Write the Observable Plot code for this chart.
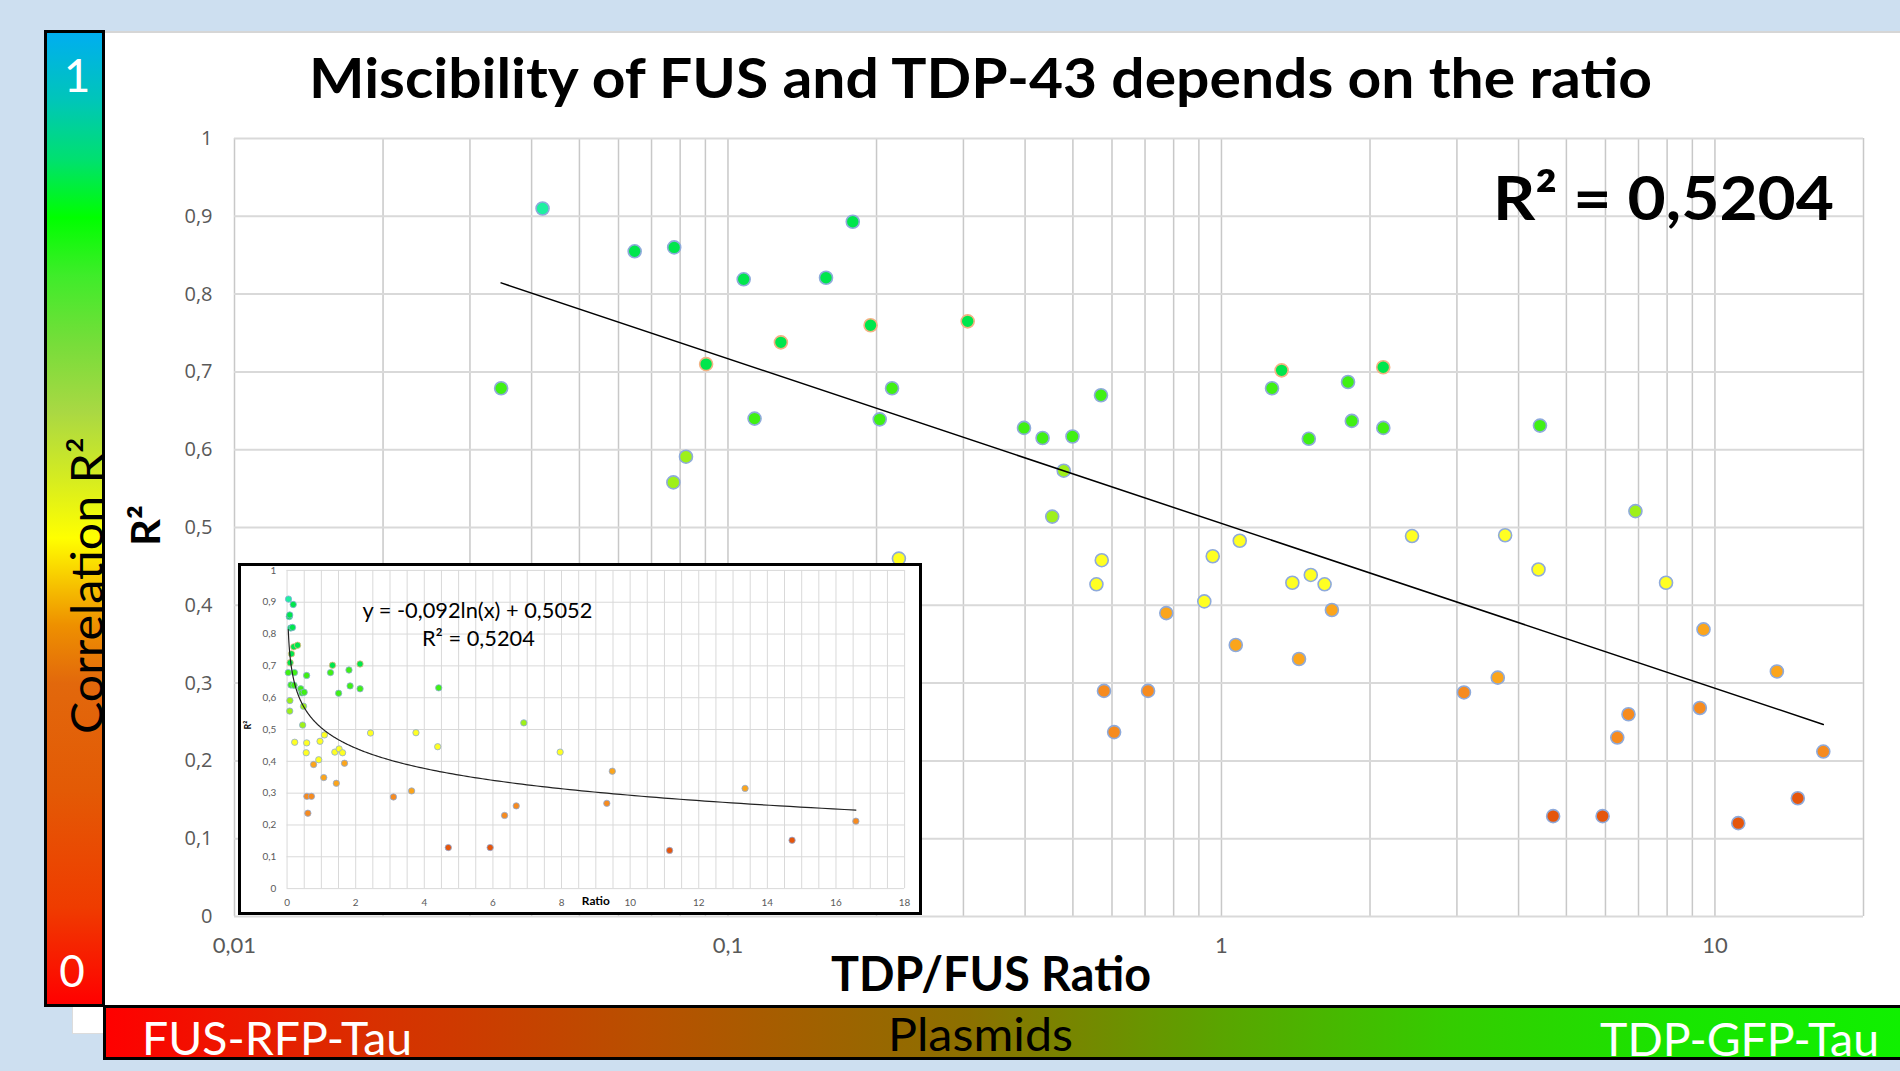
<!DOCTYPE html>
<html><head><meta charset="utf-8">
<script src="https://cdn.jsdelivr.net/npm/d3@7"></script>
<script src="https://cdn.jsdelivr.net/npm/@observablehq/plot@0.6"></script>
<style>
html,body{margin:0;padding:0}
body{width:1900px;height:1071px;background:#cddff0;position:relative;overflow:hidden;font-family:Lato,"Open Sans",sans-serif}
.abs{position:absolute}
.lbl{position:absolute;left:0;top:0;white-space:nowrap;line-height:1;transform-origin:0 0;z-index:10}
</style></head>
<body>
<div class="abs" style="left:104px;top:31px;width:1796px;height:976px;background:#fff;border-top:2px solid #d6d6d6;box-sizing:border-box"></div>
<div class="abs" style="left:72px;top:1004px;width:32px;height:30px;background:#fff;border:1px solid #dcdcdc;box-sizing:border-box"></div>
<div class="abs" id="chart" style="left:0;top:0;z-index:2"></div>
<div class="abs" id="inset" style="left:238px;top:563px;width:684px;height:352px;z-index:3;background:#fff;border:3px solid #000;box-sizing:border-box;overflow:hidden"></div>
<div class="abs" style="left:44px;top:30px;width:61px;height:977px;z-index:5;border:3px solid #000;box-sizing:border-box;background:linear-gradient(to bottom,#00aef0 0%,#00c6b8 7%,#00e070 13%,#00ff00 19%,#3fec2a 25%,#77dd3a 32%,#a9d843 39%,#d6ec20 46%,#ffff00 52%,#f6c000 57%,#ee9000 61%,#e2680c 67%,#e35a05 78%,#ef3c00 90%,#ff0000 100%)"></div>
<div class="abs" style="left:103px;top:1005px;width:1800px;height:55px;z-index:5;border:3px solid #000;box-sizing:border-box;background:linear-gradient(to right,#ff0000 0%,#d83000 15%,#b85000 30%,#8c7000 48%,#5aa400 62%,#34cc00 75%,#18e600 88%,#10f000 100%)"></div>

<div class="lbl" id="tTitle" style="font:700 56px Lato,sans-serif;color:#000">Miscibility of FUS and TDP-43 depends on the ratio</div>
<div class="lbl" id="tR2" style="font:700 62px Lato,sans-serif;color:#000"></div>
<div class="lbl" id="tX" style="font:700 48px Lato,sans-serif;color:#000">TDP/FUS Ratio</div>
<div class="lbl" id="tY" style="font:700 40px Lato,sans-serif;color:#000">R²</div>
<div class="lbl" id="tCorr" style="font:400 44px Lato,sans-serif;color:#000">Correlation R²</div>
<div class="lbl" id="tOne" style="font:400 46px Lato,sans-serif;color:#fff">1</div>
<div class="lbl" id="tZero" style="font:400 44px Lato,sans-serif;color:#fff">0</div>
<div class="lbl" id="tFus" style="font:400 46px Lato,sans-serif;color:#fff">FUS-RFP-Tau</div>
<div class="lbl" id="tPlas" style="font:400 46px Lato,sans-serif;color:#000">Plasmids</div>
<div class="lbl" id="tTdp" style="font:400 46px Lato,sans-serif;color:#fff">TDP-GFP-Tau</div>

<script>
// ---- data ----
// points with blue-grey marker outline
const ratioA = [0.0421,0.0347,0.0647,0.0778,0.0775,0.0822,0.1076,0.1132,0.158,0.179,0.203,0.215,0.222,
  0.398,0.434,0.499,0.479,0.454,0.570,0.572,0.558,0.578,0.606,0.710,0.773,0.923,0.960,1.089,1.069,
  1.266,1.392,1.436,1.503,1.517,1.618,1.674,1.805,1.837,2.128,2.433,3.10,3.63,3.757,4.39,4.42,
  4.70,5.92,6.34,6.68,6.90,7.96,9.32,9.48,11.15,13.35,14.72,16.58];
const r2A = [0.910,0.679,0.855,0.860,0.558,0.591,0.819,0.640,0.821,0.893,0.639,0.679,0.460,
  0.628,0.615,0.617,0.573,0.514,0.670,0.458,0.427,0.290,0.237,0.290,0.390,0.405,0.463,0.483,0.349,
  0.679,0.429,0.331,0.614,0.439,0.427,0.394,0.687,0.637,0.628,0.489,0.288,0.307,0.490,0.446,0.631,
  0.129,0.129,0.230,0.260,0.521,0.429,0.268,0.369,0.120,0.315,0.152,0.212];
// points with salmon marker outline
const ratioB = [0.0903,0.128,0.1945,0.306,1.324,2.127];
const r2B = [0.710,0.738,0.760,0.765,0.702,0.706];
// logarithmic trendline y = a ln(x) + b
const trendSlope = -0.092, trendIntercept = 0.5052, trendR2 = 0.5204;
// ticks
const yTicks = [0,0.1,0.2,0.3,0.4,0.5,0.6,0.7,0.8,0.9,1];
const xTicks = [0.01,0.1,1,10];
const insetXTicks = [0,2,4,6,8,10,12,14,16,18];

// ---- build ----
const groupA = ratioA.map((x,i)=>({ratio:x, r2:r2A[i]}));
const groupB = ratioB.map((x,i)=>({ratio:x, r2:r2B[i]}));
const allX = ratioA.concat(ratioB);
const [x0, x1] = d3.extent(allX);
const fit = x => trendSlope*Math.log(x) + trendIntercept;
const trend = [x0, x1].map(x=>({ratio:x, r2:fit(x)}));
const curve = d3.range(0, 301).map(i => { const x = x0*Math.pow(x1/x0, i/300); return {ratio:x, r2:fit(x)}; });
const fmt = d => String(+(+d).toFixed(4)).replace(".", ",");
const colorScale = {type:"threshold", domain:[0.2,0.3,0.4,0.5,0.6,0.7,0.9],
  range:["#e5560c","#f68b1f","#fba51c","#ffff22","#9ef01a","#40f014","#00e64c","#1ef0a0"]};
const xGrid = d3.scaleLog().domain([0.01, 20]).ticks();
const insetGrid = d3.range(0, 18.25, 0.5);

const main = Plot.plot({
  width:1900, height:1071,
  marginLeft:234, marginRight:37, marginTop:138, marginBottom:155,
  style:{background:"transparent", color:"#595959", fontFamily:"'Open Sans', sans-serif", overflow:"visible"},
  x:{type:"log", domain:[0.01, 20]},
  y:{domain:[0,1]},
  color: colorScale,
  marks:[
    Plot.ruleX(xGrid, {stroke:"#c8c8c8", strokeWidth:1.5}),
    Plot.ruleY(yTicks, {stroke:"#d9d9d9", strokeWidth:2}),
    Plot.axisY({ticks:yTicks, tickFormat:fmt, tickSize:0, tickPadding:22, fontSize:20, label:null}),
    Plot.axisX({ticks:xTicks, tickFormat:fmt, tickSize:0, tickPadding:21, fontSize:22, fontFamily:"Lato, sans-serif", label:null}),
    Plot.dot(groupA, {x:"ratio", y:"r2", fill:"r2", r:6.5, stroke:"#8eaadb", strokeWidth:1.6}),
    Plot.dot(groupB, {x:"ratio", y:"r2", fill:"r2", r:6.5, stroke:"#f4b183", strokeWidth:1.6}),
    Plot.line(trend, {x:"ratio", y:"r2", stroke:"#000", strokeWidth:1.5})
  ]
});
document.getElementById("chart").appendChild(main);

const inset = Plot.plot({
  width:684, height:352,
  marginLeft:49, marginRight:12, marginTop:7, marginBottom:24,
  style:{background:"#fff", color:"#595959", fontFamily:"Lato, sans-serif", overflow:"visible", position:"absolute", left:"-3px", top:"-3px"},
  x:{domain:[0,18]},
  y:{domain:[0,1]},
  color: colorScale,
  marks:[
    Plot.ruleX(insetGrid, {stroke:"#d9d9d9", strokeWidth:1}),
    Plot.ruleY(yTicks, {stroke:"#d9d9d9", strokeWidth:1}),
    Plot.axisY({ticks:yTicks, tickFormat:fmt, tickSize:0, tickPadding:11, fontSize:10, label:null}),
    Plot.axisX({ticks:insetXTicks, tickSize:0, tickPadding:10, fontSize:10, label:null}),
    Plot.dot(groupA, {x:"ratio", y:"r2", fill:"r2", r:3.2, stroke:"#8eaadb", strokeWidth:0.8}),
    Plot.dot(groupB, {x:"ratio", y:"r2", fill:"r2", r:3.2, stroke:"#f4b183", strokeWidth:0.8}),
    Plot.line(curve, {x:"ratio", y:"r2", stroke:"#222", strokeWidth:1.2}),
    Plot.text([`y = ${fmt(trendSlope)}ln(x) + ${fmt(trendIntercept)}`], {text:d=>d, frameAnchor:"top-left", dx:192, dy:32, fontSize:22, fill:"#000", textAnchor:"middle"}),
    Plot.text([`R² = ${fmt(trendR2)}`], {text:d=>d, frameAnchor:"top-left", dx:193, dy:61, fontSize:22, fill:"#000", textAnchor:"middle"}),
    Plot.text(["Ratio"], {text:d=>d, frameAnchor:"bottom", dy:17, fontSize:12, fontWeight:"bold", fill:"#000"}),
    Plot.text(["R²"], {text:d=>d, frameAnchor:"left", dx:-39, rotate:-90, fontSize:9, fontWeight:"bold", fill:"#000"})
  ]
});
document.getElementById("inset").appendChild(inset);

document.getElementById("tR2").textContent = `R² = ${fmt(trendR2)}`;

// ---- label placement: baseline + fitted width ----
function place(id, o){
  const el = document.getElementById(id);
  const m = document.createElement("span");
  m.style.cssText = "display:inline-block;width:0;height:0;vertical-align:baseline";
  el.appendChild(m);
  const r = el.getBoundingClientRect();
  const bo = m.getBoundingClientRect().top - r.top;
  const w = r.width;
  const sx = o.width ? o.width / w : 1;
  const sw = w * sx;
  if (!o.rotate){
    let x = o.x;
    if (o.anchor === "middle") x -= sw/2; else if (o.anchor === "end") x -= sw;
    el.style.transform = `translate(${x}px, ${o.baseline - bo}px) scaleX(${sx})`;
  } else {
    let y = o.y;
    if (o.anchor === "middle") y += sw/2;
    el.style.transform = `translate(${o.baseline}px, ${y}px) rotate(-90deg) translate(0px, ${-bo}px) scaleX(${sx})`;
  }
}
place("tTitle", {x:309, width:1343, baseline:98});
place("tR2", {x:1493, width:341, baseline:220});
place("tX", {x:831, width:320, baseline:991});
place("tY", {rotate:true, baseline:160, y:546, width:41});
place("tCorr", {rotate:true, baseline:103, y:734, width:297});
place("tOne", {x:77, anchor:"middle", baseline:92});
place("tZero", {x:72, anchor:"middle", baseline:987});
place("tFus", {x:142, width:270, baseline:1055});
place("tPlas", {x:888, width:185, baseline:1051});
place("tTdp", {x:1600, width:279, baseline:1056});
</script>
</body></html>
